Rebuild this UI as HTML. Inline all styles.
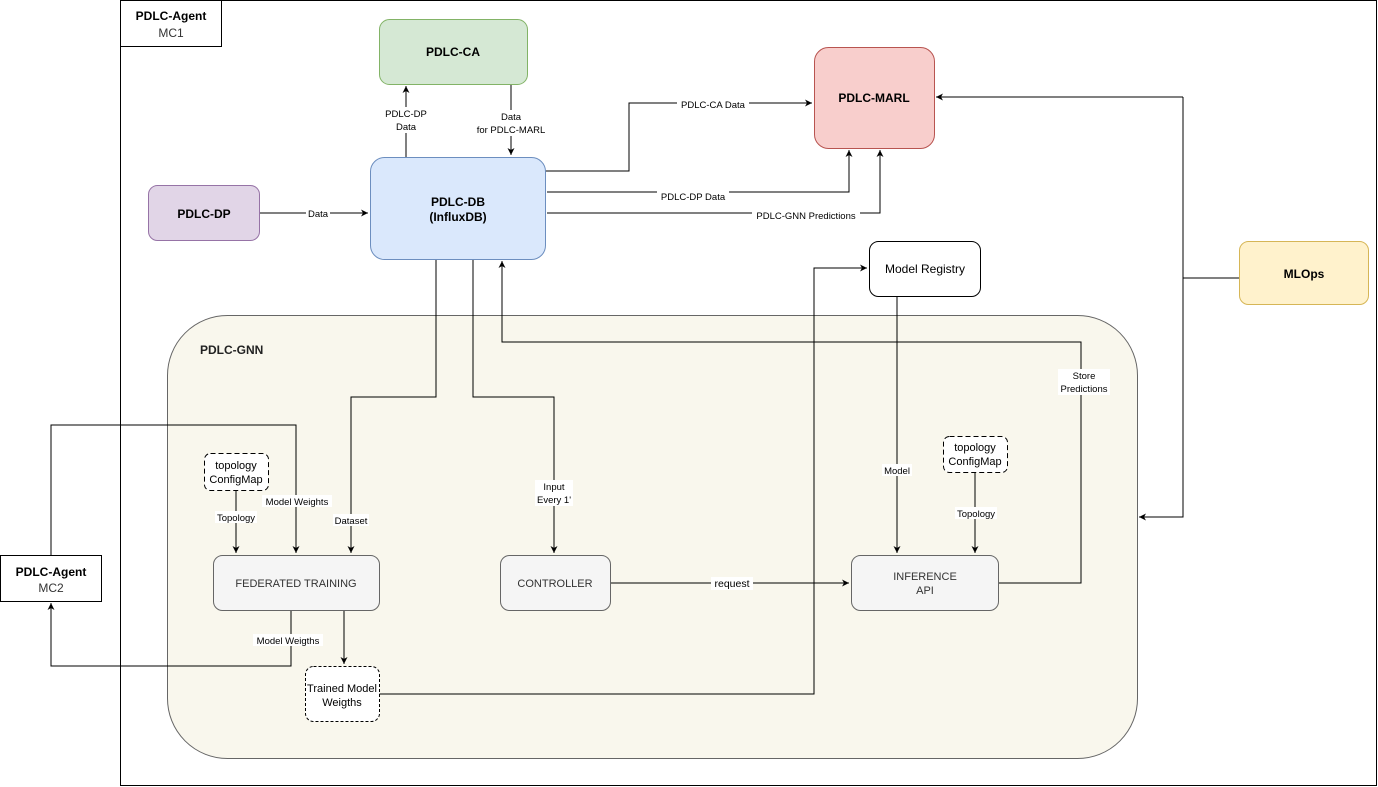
<!DOCTYPE html>
<html><head><meta charset="utf-8"><style>
html,body{margin:0;padding:0;background:#fff;}
svg{display:block;font-family:"Liberation Sans",Arial,sans-serif;}
</style></head><body>
<svg width="1378" height="787" viewBox="0 0 1378 787" xmlns="http://www.w3.org/2000/svg">
<defs>
<marker id="a" markerWidth="8" markerHeight="8" refX="7" refY="4" orient="auto" markerUnits="userSpaceOnUse">
<path d="M0,0.5 L7,4 L0,7.5 L2,4 Z" fill="#000"/>
</marker>
</defs>
<rect x="0" y="0" width="1378" height="787" fill="#fff"/>
<!-- outer frame -->
<rect x="120.5" y="0.5" width="1256" height="785" fill="#fff" stroke="#000"/>
<rect x="120.5" y="0.5" width="101" height="46" fill="#fff" stroke="#000"/>
<text x="171" y="20" font-size="12" font-weight="bold" text-anchor="middle">PDLC-Agent</text>
<text x="171" y="37" font-size="12" text-anchor="middle" fill="#333">MC1</text>

<!-- GNN container -->
<rect x="167.5" y="315.5" width="970" height="443" rx="60" fill="#f9f7ed" stroke="#666"/>
<text x="200" y="354" font-size="12" font-weight="bold" fill="#222">PDLC-GNN</text>

<!-- connectors -->
<g fill="none" stroke="#000" stroke-width="1">
<path d="M259,213 H368" marker-end="url(#a)"/>
<path d="M406,157 V86" marker-end="url(#a)"/>
<path d="M511,84 V155" marker-end="url(#a)"/>
<path d="M545,171 H629 V103 H812" marker-end="url(#a)"/>
<path d="M547,192 H849 V150" marker-end="url(#a)"/>
<path d="M547,213 H880 V150" marker-end="url(#a)"/>
<path d="M436,259 V397 H351 V553" marker-end="url(#a)"/>
<path d="M473,259 V397 H554 V553" marker-end="url(#a)"/>
<path d="M998,583 H1081 V342 H502 V261" marker-end="url(#a)"/>
<path d="M1239,278 H1183"/>
<path d="M1183,97 H936" marker-end="url(#a)"/>
<path d="M1183,97 V517 H1139" marker-end="url(#a)"/>
<path d="M379,694 H814 V268 H867" marker-end="url(#a)"/>
<path d="M897,296 V553" marker-end="url(#a)"/>
<path d="M975,472 V553" marker-end="url(#a)"/>
<path d="M610,583 H849" marker-end="url(#a)"/>
<path d="M236,490 V553" marker-end="url(#a)"/>
<path d="M51,555 V425 H296 V553" marker-end="url(#a)"/>
<path d="M291,610 V666 H51 V603" marker-end="url(#a)"/>
<path d="M344,610 V664" marker-end="url(#a)"/>
</g>

<!-- nodes -->
<rect x="379.5" y="19.5" width="148" height="65" rx="10" fill="#d5e8d4" stroke="#82b366"/>
<text x="453" y="56" font-size="12" font-weight="bold" text-anchor="middle">PDLC-CA</text>

<rect x="814.5" y="47.5" width="120" height="101" rx="14" fill="#f8cecc" stroke="#b85450"/>
<text x="874" y="102" font-size="12" font-weight="bold" text-anchor="middle">PDLC-MARL</text>

<rect x="148.5" y="185.5" width="111" height="55" rx="9" fill="#e1d5e7" stroke="#9673a6"/>
<text x="204" y="218" font-size="12" font-weight="bold" text-anchor="middle">PDLC-DP</text>

<rect x="370.5" y="157.5" width="175" height="102" rx="14" fill="#dae8fc" stroke="#6c8ebf"/>
<text x="458" y="206" font-size="12" font-weight="bold" text-anchor="middle">PDLC-DB</text>
<text x="458" y="221" font-size="12" font-weight="bold" text-anchor="middle">(InfluxDB)</text>

<rect x="869.5" y="241.5" width="111" height="55" rx="9" fill="#fff" stroke="#000"/>
<text x="925" y="273" font-size="12" text-anchor="middle">Model Registry</text>

<rect x="1239.5" y="241.5" width="129" height="63" rx="9" fill="#fff2cc" stroke="#d6b656"/>
<text x="1304" y="278" font-size="12" font-weight="bold" text-anchor="middle">MLOps</text>

<rect x="0.5" y="555.5" width="101" height="46" fill="#fff" stroke="#000"/>
<text x="51" y="576" font-size="12" font-weight="bold" text-anchor="middle">PDLC-Agent</text>
<text x="51" y="592" font-size="12" text-anchor="middle" fill="#333">MC2</text>

<rect x="213.5" y="555.5" width="166" height="55" rx="9" fill="#f5f5f5" stroke="#666"/>
<text x="296" y="587" font-size="11" text-anchor="middle" fill="#333">FEDERATED TRAINING</text>

<rect x="500.5" y="555.5" width="110" height="55" rx="9" fill="#f5f5f5" stroke="#666"/>
<text x="555" y="587" font-size="11" text-anchor="middle" fill="#333">CONTROLLER</text>

<rect x="851.5" y="555.5" width="147" height="55" rx="9" fill="#f5f5f5" stroke="#666"/>
<text x="925" y="580" font-size="11" text-anchor="middle" fill="#333">INFERENCE</text>
<text x="925" y="594" font-size="11" text-anchor="middle" fill="#333">API</text>

<rect x="204.5" y="453.5" width="64" height="37" rx="6" fill="#fff" stroke="#000" stroke-dasharray="5,3"/>
<text x="236" y="469" font-size="11" text-anchor="middle">topology</text>
<text x="236" y="483" font-size="11" text-anchor="middle">ConfigMap</text>

<rect x="943.5" y="436.5" width="64" height="36" rx="6" fill="#fff" stroke="#000" stroke-dasharray="5,3"/>
<text x="975" y="451" font-size="11" text-anchor="middle">topology</text>
<text x="975" y="465" font-size="11" text-anchor="middle">ConfigMap</text>

<rect x="305.5" y="666.5" width="74" height="55" rx="8" fill="#fff" stroke="#000" stroke-dasharray="3,2"/>
<text x="342" y="692" font-size="11" text-anchor="middle">Trained Model</text>
<text x="342" y="706" font-size="11" text-anchor="middle">Weigths</text>

<!-- edge labels -->
<g font-size="9.5" text-anchor="middle">
<rect x="306" y="207" width="24" height="12" fill="#fff"/><text x="318" y="217">Data</text>
<rect x="384" y="107" width="44" height="26" fill="#fff"/><text x="406" y="117">PDLC-DP</text><text x="406" y="130">Data</text>
<rect x="472" y="110" width="78" height="26" fill="#fff"/><text x="511" y="120">Data</text><text x="511" y="133">for PDLC-MARL</text>
<rect x="677" y="98" width="72" height="12" fill="#fff"/><text x="713" y="108">PDLC-CA Data</text>
<rect x="657" y="190" width="72" height="12" fill="#fff"/><text x="693" y="200">PDLC-DP Data</text>
<rect x="752" y="209" width="108" height="12" fill="#fff"/><text x="806" y="219">PDLC-GNN Predictions</text>
<rect x="333" y="514" width="36" height="12" fill="#fff"/><text x="351" y="524">Dataset</text>
<rect x="535" y="480" width="38" height="26" fill="#fff"/><text x="554" y="490">Input</text><text x="554" y="503">Every 1'</text>
<rect x="1058" y="369" width="52" height="26" fill="#fff"/><text x="1084" y="379">Store</text><text x="1084" y="392">Predictions</text>
<rect x="882" y="464" width="30" height="12" fill="#fff"/><text x="897" y="474">Model</text>
<rect x="955" y="507" width="42" height="12" fill="#fff"/><text x="976" y="517">Topology</text>
<rect x="711" y="577" width="42" height="13" fill="#fff"/><text x="732" y="587" font-size="10.5">request</text>
<rect x="215" y="511" width="42" height="12" fill="#fff"/><text x="236" y="521">Topology</text>
<rect x="262" y="495" width="70" height="12" fill="#fff"/><text x="297" y="505">Model Weights</text>
<rect x="253" y="634" width="70" height="12" fill="#fff"/><text x="288" y="644">Model Weigths</text>
</g>
</svg>
</body></html>
